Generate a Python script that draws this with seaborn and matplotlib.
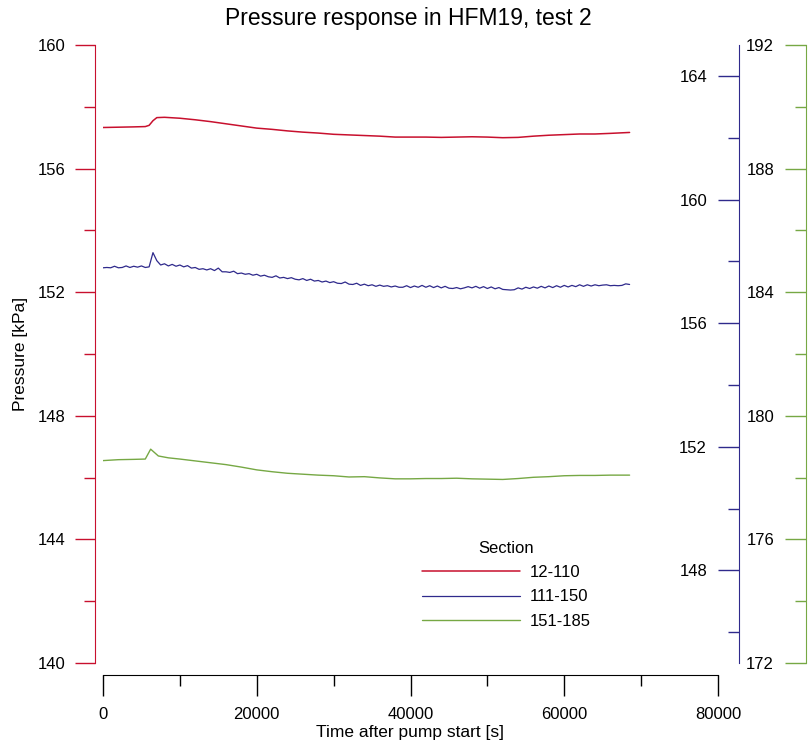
import matplotlib
matplotlib.use("Agg")
import matplotlib.pyplot as plt
import seaborn as sns
import pandas as pd
from matplotlib.ticker import MultipleLocator

sns.set_style("ticks")
plt.rcParams["font.family"] = ["Liberation Sans", "DejaVu Sans"]
plt.rcParams["text.color"] = "black"
plt.rcParams["axes.labelcolor"] = "black"
plt.rcParams["xtick.color"] = "black"
plt.rcParams["ytick.color"] = "black"

# ---------------- data ----------------
red_time = [0, 2000, 4000, 5500, 6000, 6500, 7000, 8000, 10000, 12000, 14000, 16000,
            18000, 20000, 22000, 24000, 26000, 28000, 30000, 32000, 34000, 36000,
            38000, 40000, 42000, 44000, 46000, 48000, 50000, 52000, 54000, 56000,
            58000, 60000, 62000, 64000, 66000, 68500]
red_kpa = [157.33, 157.34, 157.35, 157.36, 157.40, 157.55, 157.65, 157.66, 157.63, 157.58,
           157.52, 157.45, 157.38, 157.31, 157.27, 157.22, 157.18, 157.15, 157.11, 157.09,
           157.07, 157.05, 157.02, 157.02, 157.02, 157.01, 157.02, 157.03, 157.02, 157.00,
           157.01, 157.05, 157.08, 157.10, 157.12, 157.12, 157.14, 157.17]

blue_time = list(range(0, 69000, 500))
blue_kpa = [157.79, 157.80, 157.79, 157.84, 157.79, 157.80, 157.85, 157.80, 157.84, 157.81,
            157.85, 157.80, 157.82, 158.28, 158.02, 157.88, 157.92, 157.85, 157.90, 157.84,
            157.88, 157.82, 157.86, 157.78, 157.80, 157.74, 157.76, 157.72, 157.76, 157.70,
            157.78, 157.66, 157.66, 157.64, 157.68, 157.60, 157.62, 157.58, 157.60, 157.55,
            157.58, 157.52, 157.55, 157.50, 157.48, 157.53, 157.46, 157.48, 157.44, 157.47,
            157.42, 157.40, 157.44, 157.38, 157.42, 157.36, 157.38, 157.33, 157.36, 157.31,
            157.34, 157.29, 157.28, 157.33, 157.26, 157.25, 157.29, 157.22, 157.26, 157.21,
            157.24, 157.19, 157.23, 157.19, 157.21, 157.17, 157.20, 157.16, 157.16, 157.21,
            157.15, 157.20, 157.16, 157.22, 157.16, 157.21, 157.15, 157.20, 157.14, 157.19,
            157.13, 157.12, 157.15, 157.11, 157.14, 157.18, 157.14, 157.19, 157.13, 157.18,
            157.12, 157.17, 157.11, 157.15, 157.09, 157.08, 157.07, 157.08, 157.14, 157.10,
            157.16, 157.12, 157.17, 157.13, 157.19, 157.14, 157.20, 157.15, 157.21, 157.16,
            157.22, 157.17, 157.22, 157.18, 157.24, 157.19, 157.24, 157.20, 157.24, 157.21,
            157.23, 157.24, 157.21, 157.22, 157.21, 157.22, 157.27, 157.25]

green_time = [0, 2000, 4000, 5500, 6200, 7200, 8500, 10000, 12000, 14000, 16000, 18000,
              20000, 22000, 24000, 26000, 28000, 30000, 32000, 34000, 36000, 38000, 40000,
              42000, 44000, 46000, 48000, 50000, 52000, 54000, 56000, 58000, 60000, 62000,
              64000, 66000, 68500]
green_kpa = [178.55, 178.58, 178.59, 178.60, 178.92, 178.70, 178.64, 178.60, 178.54, 178.48,
             178.42, 178.34, 178.25, 178.19, 178.14, 178.11, 178.08, 178.06, 178.02, 178.03,
             177.99, 177.96, 177.96, 177.97, 177.97, 177.98, 177.96, 177.95, 177.94, 177.97,
             178.01, 178.03, 178.06, 178.07, 178.07, 178.08, 178.08]

sections = ["12-110", "111-150", "151-185"]
title = "Pressure response in HFM19, test 2"

# ---------------- style ----------------
RED = "#c8102e"
BLUE = "#2f2a8c"
GREEN = "#76a844"
FS = 12

fig = plt.figure(figsize=(8.08, 7.47), dpi=100)
ax = fig.add_axes([103 / 808, 84 / 747, 615 / 808, 618 / 747])
ax_b = ax.twinx()
ax_g = ax.twinx()

sns.lineplot(x=red_time, y=red_kpa, ax=ax, color=RED, lw=1.1, label=sections[0], legend=False)
sns.lineplot(x=blue_time, y=blue_kpa, ax=ax_b, color=BLUE, lw=0.9, label=sections[1], legend=False)
sns.lineplot(x=green_time, y=green_kpa, ax=ax_g, color=GREEN, lw=1.0, label=sections[2], legend=False)

ax.set_xlim(0, 80000)
ax.set_ylim(140, 160)
ax_b.set_ylim(145, 165)
ax_g.set_ylim(172, 192)

# main axis
for s in ["top", "right"]:
    ax.spines[s].set_visible(False)
ax.spines["left"].set_position(("outward", 5.76))
ax.spines["bottom"].set_position(("outward", 8.64))
ax.spines["left"].set_color(RED)
ax.spines["bottom"].set_color("black")
ax.xaxis.set_major_locator(MultipleLocator(20000))
ax.xaxis.set_minor_locator(MultipleLocator(10000))
ax.yaxis.set_major_locator(MultipleLocator(4))
ax.yaxis.set_minor_locator(MultipleLocator(2))
ax.tick_params(axis="x", which="major", direction="out", length=15, width=1, pad=8,
               labelsize=FS, colors="black")
ax.tick_params(axis="x", which="minor", direction="out", length=8, width=1)
ax.tick_params(axis="y", which="major", direction="out", length=14.4, width=1, pad=7,
               labelsize=FS, color=RED, labelcolor="black")
ax.tick_params(axis="y", which="minor", direction="out", length=8, width=1, color=RED)
ax.set_xlabel("Time after pump start [s]", fontsize=12.5, labelpad=2)
ax.set_ylabel("Pressure [kPa]", fontsize=12.5, labelpad=7)

for tw, col, off in [(ax_b, BLUE, 15.12), (ax_g, GREEN, 63.36)]:
    for s in ["top", "left", "bottom"]:
        tw.spines[s].set_visible(False)
    tw.spines["right"].set_position(("outward", off))
    tw.spines["right"].set_color(col)
    tw.yaxis.set_major_locator(MultipleLocator(4))
    tw.yaxis.set_minor_locator(MultipleLocator(2))
    tw.tick_params(axis="y", which="major", direction="in", length=15, width=1,
                   pad=-23, labelsize=FS, color=col, labelcolor="black")
    tw.tick_params(axis="y", which="minor", direction="in", length=8, width=1, color=col)
    tw.set_ylabel("")
    for lab in tw.get_yticklabels():
        lab.set_horizontalalignment("right")

fig.text(408 / 808, 1 - 19 / 747, title, ha="center", va="center", fontsize=16.5)

handles = []
for a in (ax, ax_b, ax_g):
    h, l = a.get_legend_handles_labels()
    handles += h
leg = ax_g.legend(handles, sections, title="Section", frameon=False, fontsize=FS,
                  title_fontsize=FS, loc="upper left",
                  bbox_to_anchor=(422 / 808, 1 - 541 / 747), bbox_transform=fig.transFigure,
                  borderpad=0, borderaxespad=0, handlelength=5.9, handletextpad=0.55,
                  labelspacing=0.55)

fig.savefig("out.png", dpi=100)
